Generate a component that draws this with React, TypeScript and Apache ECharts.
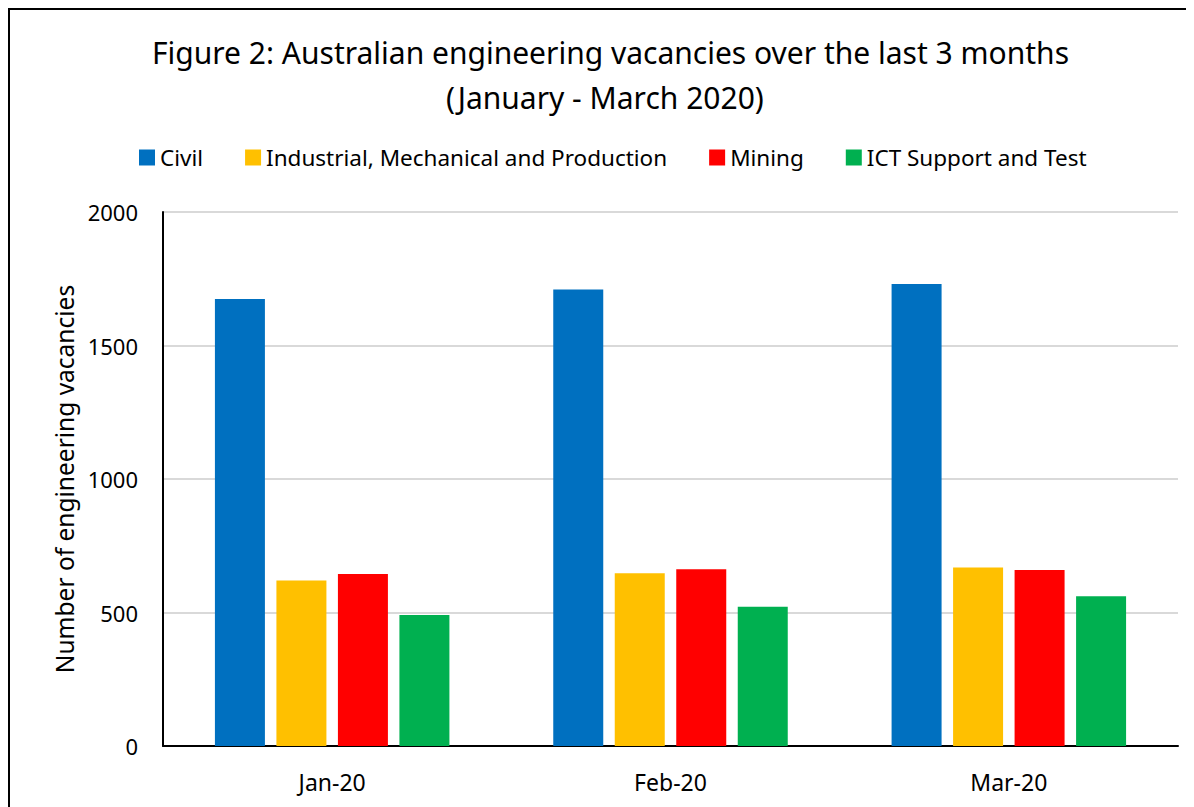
import React, { useEffect, useRef } from "react";
import * as echarts from "echarts";

const categories = ["Jan-20", "Feb-20", "Mar-20"];
const seriesNames = [
  "Civil",
  "Industrial, Mechanical and Production",
  "Mining",
  "ICT Support and Test",
];
const civil = [1674, 1710, 1730];
const industrial = [620, 647, 669];
const mining = [644, 662, 659];
const ict = [491, 522, 561];
const colors = ["#0070C0", "#FFC000", "#FF0000", "#00B050"];
const yTicks = [0, 500, 1000, 1500, 2000];
const titleLines = [
  "Figure 2: Australian engineering vacancies over the last 3 months",
  "(January - March 2020)",
];

const FONT = "Noto Sans";

export default function App() {
  const ref = useRef<HTMLDivElement>(null);
  useEffect(() => {
    document.body.style.overflow = "hidden";
    const chart = echarts.init(ref.current!, null, { renderer: "svg" });
    const values = [civil, industrial, mining, ict];
    const titleLefts = [142, 436];
    chart.setOption({
      animation: false,
      textStyle: { fontFamily: FONT, color: "#000" },
      title: titleLines.map((t, i) => ({
        text: t,
        left: titleLefts[i],
        top: 20 + i * 45,
        padding: 0,
        textStyle: {
          fontFamily: FONT,
          fontSize: 30,
          fontWeight: "normal",
          color: "#000",
          lineHeight: 45,
        },
      })),
      legend: {
        top: 136,
        left: 129,
        padding: 0,
        icon: "rect",
        itemWidth: 16,
        itemHeight: 16,
        itemGap: 42,
        textStyle: { fontFamily: FONT, fontSize: 22.5, color: "#000" },
        data: seriesNames,
      },
      grid: { left: 153, right: 16, top: 202, bottom: 61, containLabel: false },
      xAxis: {
        type: "category",
        data: categories,
        axisLine: { lineStyle: { color: "#000", width: 2 } },
        axisTick: { show: false },
        axisLabel: { fontFamily: FONT, fontSize: 23, color: "#000", margin: 24 },
      },
      yAxis: {
        type: "value",
        min: yTicks[0],
        max: yTicks[yTicks.length - 1],
        interval: 500,
        name: "Number of engineering vacancies",
        nameLocation: "middle",
        nameGap: 86,
        nameTextStyle: { fontFamily: FONT, fontSize: 24.5, color: "#000" },
        axisLine: { show: true, lineStyle: { color: "#000", width: 2 } },
        axisTick: { show: false },
        axisLabel: {
          fontFamily: FONT,
          fontSize: 22,
          color: "#000",
          margin: 25,
          formatter: (v: number) => String(v),
        },
        splitLine: { lineStyle: { color: "#d9d9d9", width: 2 } },
      },
      series: seriesNames.map((name, i) => ({
        name,
        type: "bar",
        data: values[i],
        barWidth: 50,
        barGap: "23%",
        itemStyle: { color: colors[i] },
      })),
    });
    return () => chart.dispose();
  }, []);
  return (
    <div
      style={{
        borderTop: "2px solid #000",
        borderLeft: "2px solid #000",
        width: 1184,
        height: 797,
        background: "#fff",
      }}
    >
      <div ref={ref} style={{ width: 1184, height: 797 }} />
    </div>
  );
}
